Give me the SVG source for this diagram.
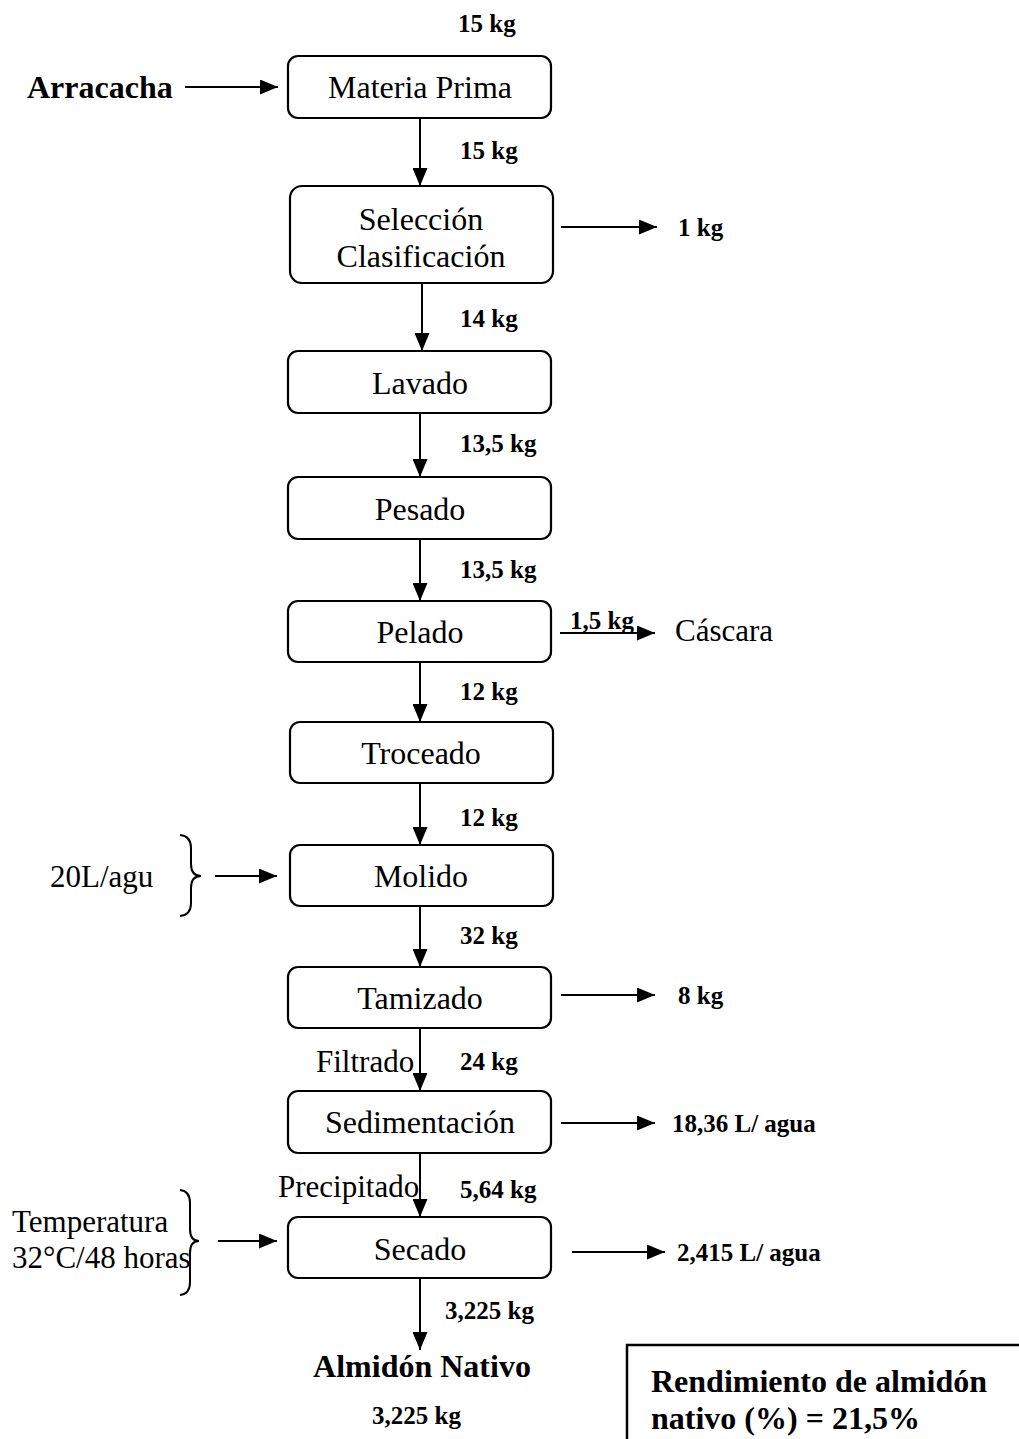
<svg xmlns="http://www.w3.org/2000/svg" width="1019" height="1439" viewBox="0 0 1019 1439">
<style>
.box{fill:#fff;stroke:#000;stroke-width:2.2}
.bt{font-family:"Liberation Serif","Times New Roman",serif;font-size:32px;text-anchor:middle;fill:#000}
.kg{font-family:"Liberation Serif","Times New Roman",serif;font-size:25px;font-weight:bold;fill:#000}
.lt{font-family:"Liberation Serif","Times New Roman",serif;font-size:31px;fill:#000}
.bb{font-family:"Liberation Serif","Times New Roman",serif;font-size:32px;font-weight:bold;fill:#000}
.ln{fill:none;stroke:#000;stroke-width:2}
</style>
<defs>
<marker id="ah" markerUnits="userSpaceOnUse" markerWidth="19" markerHeight="15" refX="18" refY="7.5" orient="auto">
<path d="M0,0 L18,7.5 L0,15 z" fill="#000"/>
</marker>
</defs>
<rect width="1019" height="1439" fill="#fff"/>

<g id="connectors">
<line class="ln" x1="185" y1="87" x2="278" y2="87" marker-end="url(#ah)"/>
<line class="ln" x1="420" y1="118" x2="420" y2="186" marker-end="url(#ah)"/>
<line class="ln" x1="561" y1="227" x2="657" y2="227" marker-end="url(#ah)"/>
<line class="ln" x1="422" y1="283" x2="422" y2="351" marker-end="url(#ah)"/>
<line class="ln" x1="420" y1="413" x2="420" y2="477" marker-end="url(#ah)"/>
<line class="ln" x1="420" y1="539" x2="420" y2="601" marker-end="url(#ah)"/>
<line class="ln" x1="560" y1="633" x2="655" y2="633" marker-end="url(#ah)"/>
<line class="ln" x1="420" y1="662" x2="420" y2="722" marker-end="url(#ah)"/>
<line class="ln" x1="420" y1="783" x2="420" y2="845" marker-end="url(#ah)"/>
<line class="ln" x1="215" y1="876" x2="277" y2="876" marker-end="url(#ah)"/>
<line class="ln" x1="420" y1="906" x2="420" y2="967" marker-end="url(#ah)"/>
<line class="ln" x1="561" y1="995" x2="655" y2="995" marker-end="url(#ah)"/>
<line class="ln" x1="420" y1="1028" x2="420" y2="1091" marker-end="url(#ah)"/>
<line class="ln" x1="561" y1="1123" x2="655" y2="1123" marker-end="url(#ah)"/>
<line class="ln" x1="420" y1="1153" x2="420" y2="1217" marker-end="url(#ah)"/>
<line class="ln" x1="218" y1="1241" x2="277" y2="1241" marker-end="url(#ah)"/>
<line class="ln" x1="572" y1="1252" x2="665" y2="1252" marker-end="url(#ah)"/>
<line class="ln" x1="420" y1="1278" x2="420" y2="1350" marker-end="url(#ah)"/>
</g>

<g id="materia-prima"><rect class="box" x="288" y="56" width="263" height="62" rx="10"/><text class="bt" x="420" y="98">Materia Prima</text></g>
<g id="seleccion"><rect class="box" x="290" y="186" width="263" height="97" rx="12"/><text class="bt" x="421" y="230">Selección</text><text class="bt" x="421" y="267">Clasificación</text></g>
<g id="lavado"><rect class="box" x="288" y="351" width="263" height="62" rx="10"/><text class="bt" x="420" y="394">Lavado</text></g>
<g id="pesado"><rect class="box" x="288" y="477" width="263" height="62" rx="10"/><text class="bt" x="420" y="520">Pesado</text></g>
<g id="pelado"><rect class="box" x="288" y="601" width="263" height="61" rx="10"/><text class="bt" x="420" y="643">Pelado</text></g>
<g id="troceado"><rect class="box" x="290" y="722" width="263" height="61" rx="10"/><text class="bt" x="421" y="764">Troceado</text></g>
<g id="molido"><rect class="box" x="290" y="845" width="263" height="61" rx="10"/><text class="bt" x="421" y="887">Molido</text></g>
<g id="tamizado"><rect class="box" x="288" y="967" width="263" height="61" rx="10"/><text class="bt" x="420" y="1009">Tamizado</text></g>
<g id="sedimentacion"><rect class="box" x="288" y="1091" width="263" height="62" rx="10"/><text class="bt" x="420" y="1133">Sedimentación</text></g>
<g id="secado"><rect class="box" x="288" y="1217" width="263" height="61" rx="10"/><text class="bt" x="420" y="1260">Secado</text></g>

<g id="arracacha"><text class="bb" x="27" y="98">Arracacha</text></g>
<g id="agua-in"><text class="lt" x="50" y="887">20L/agu</text><path class="ln" d="M180,835 Q191,836 191,848 L191,864 Q191,876 201,876 Q191,876 191,888 L191,903 Q191,915 180,916"/></g>
<g id="temperatura"><text class="lt" x="12" y="1232">Temperatura</text><text class="lt" x="12" y="1268">32°C/48 horas</text><path class="ln" d="M180,1190 Q190,1191 190,1203 L190,1229 Q190,1241 199,1241 Q190,1241 190,1253 L190,1282 Q190,1294 180,1295"/></g>
<g id="almidon"><text class="bb" x="422" y="1377" text-anchor="middle">Almidón Nativo</text></g>
<g id="rendimiento"><rect x="627" y="1345" width="400" height="110" fill="#fff" stroke="#000" stroke-width="2.5"/><text class="bb" x="651" y="1392">Rendimiento de almidón</text><text class="bb" x="651" y="1429">nativo (%) = 21,5%</text></g>

<g id="labels">
<text class="kg" x="458" y="32">15 kg</text>
<text class="kg" x="460" y="159">15 kg</text>
<text class="kg" x="678" y="236">1 kg</text>
<text class="kg" x="460" y="327">14 kg</text>
<text class="kg" x="460" y="452">13,5 kg</text>
<text class="kg" x="460" y="578">13,5 kg</text>
<text class="kg" x="570" y="629" font-weight="normal">1,5 kg</text>
<text class="lt" x="675" y="641">Cáscara</text>
<text class="kg" x="460" y="700">12 kg</text>
<text class="kg" x="460" y="826">12 kg</text>
<text class="kg" x="460" y="944">32 kg</text>
<text class="kg" x="678" y="1004">8 kg</text>
<text class="lt" x="316" y="1072" font-size="29">Filtrado</text>
<text class="kg" x="460" y="1070">24 kg</text>
<text class="kg" x="672" y="1132" font-weight="normal" font-size="26">18,36 L/ agua</text>
<text class="lt" x="278" y="1197" font-size="29">Precipitado</text>
<text class="kg" x="460" y="1198">5,64 kg</text>
<text class="kg" x="677" y="1261" font-weight="normal" font-size="26">2,415 L/ agua</text>
<text class="kg" x="445" y="1319">3,225 kg</text>
<text class="kg" x="372" y="1424">3,225 kg</text>
</g>
</svg>
